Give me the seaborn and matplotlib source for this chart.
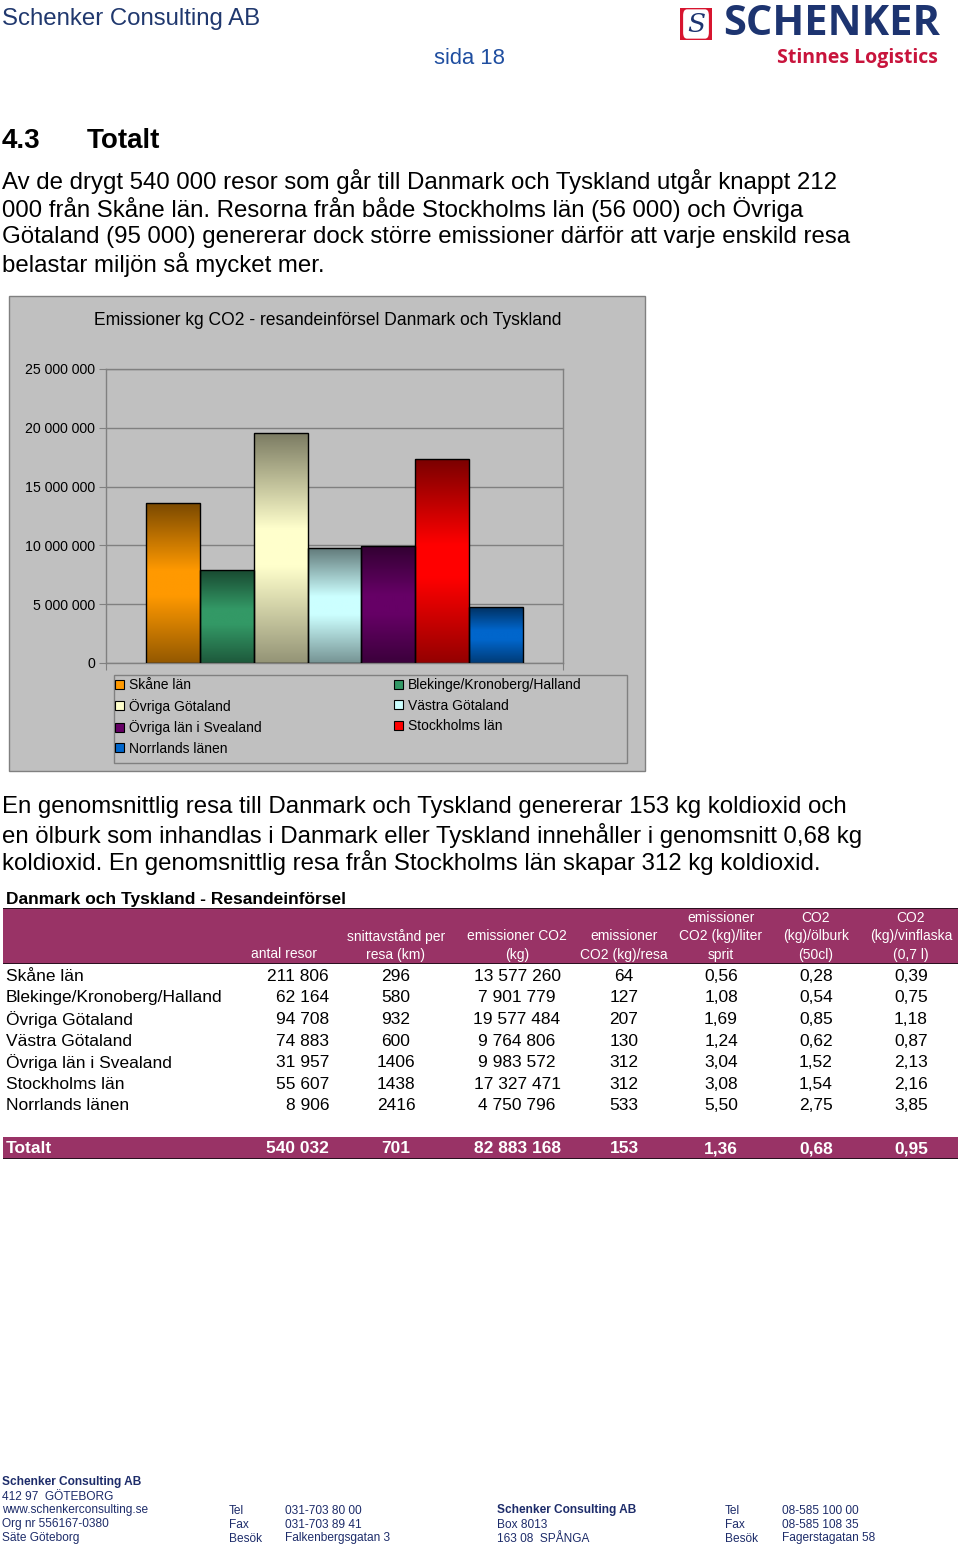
import numpy as np
import pandas as pd
import matplotlib
matplotlib.use("Agg")
import matplotlib.pyplot as plt
from matplotlib.patches import Rectangle, Patch, FancyBboxPatch
from matplotlib.ticker import FuncFormatter
import seaborn as sns

# ---------------- data ----------------
regions = ["Skåne län", "Blekinge/Kronoberg/Halland", "Övriga Götaland", "Västra Götaland",
           "Övriga län i Svealand", "Stockholms län", "Norrlands länen"]
antal_resor = [211806, 62164, 94708, 74883, 31957, 55607, 8906]
snittavstand_km = [296, 580, 932, 600, 1406, 1438, 2416]
emissioner_kg = [13577260, 7901779, 19577484, 9764806, 9983572, 17327471, 4750796]
per_resa = [64, 127, 207, 130, 312, 312, 533]
per_liter_sprit = [0.56, 1.08, 1.69, 1.24, 3.04, 3.08, 5.50]
per_olburk = [0.28, 0.54, 0.85, 0.62, 1.52, 1.54, 2.75]
per_vinflaska = [0.39, 0.75, 1.18, 0.87, 2.13, 2.16, 3.85]
totalt = ["540 032", "701", "82 883 168", "153", "1,36", "0,68", "0,95"]
bar_colors = ["#ff9900", "#339966", "#ffffcc", "#ccffff", "#660066", "#ff0000", "#0066cc"]
y_ticks = [0, 5000000, 10000000, 15000000, 20000000, 25000000]

chart_title = "Emissioner kg CO2 - resandeinförsel Danmark och Tyskland"
para1 = ["Av de drygt 540 000 resor som går till Danmark och Tyskland utgår knappt 212",
         "000 från Skåne län. Resorna från både Stockholms län (56 000) och Övriga",
         "Götaland (95 000) genererar dock större emissioner därför att varje enskild resa",
         "belastar miljön så mycket mer."]
para2 = ["En genomsnittlig resa till Danmark och Tyskland genererar 153 kg koldioxid och",
         "en ölburk som inhandlas i Danmark eller Tyskland innehåller i genomsnitt 0,68 kg",
         "koldioxid. En genomsnittlig resa från Stockholms län skapar 312 kg koldioxid."]

# ---------------- setup ----------------
plt.rcParams['font.family'] = ['Liberation Sans', 'DejaVu Sans']
W, H = 960, 1551
fig = plt.figure(figsize=(W / 100, H / 100), dpi=100)
fig.patch.set_facecolor("white")
DY = 1.5


def T(x, y, s, size, ha="left", va="center", weight="normal", color="black", **kw):
    return fig.text(x / W, 1 - (y + DY) / H, s, fontsize=size, ha=ha, va=va,
                    fontweight=weight, color=color, **kw)


def R(x0, y0, x1, y1, **kw):
    r = Rectangle((x0 / W, 1 - y1 / H), (x1 - x0) / W, (y1 - y0) / H,
                  transform=fig.transFigure, **kw)
    fig.patches.append(r)
    return r


def fmt_int(v):
    return f"{int(v):,}".replace(",", " ")


def fmt_dec(v):
    return f"{v:.2f}".replace(".", ",")


navy = "#1d3470"

# ---------------- header ----------------
T(2, 17, "Schenker Consulting AB", 17.3, color="#20386e")
T(469, 57, "sida 18", 15.8, ha="center", color="#1f4ea0")
# logo
R(680, 8, 712, 40, facecolor="#d7152f", edgecolor="none")
fb = FancyBboxPatch((686 / W, 1 - 34 / H), 20 / W, 20 / H,
                    boxstyle="round,pad=0.003,rounding_size=0.004",
                    transform=fig.transFigure, facecolor="white", edgecolor="none")
fig.patches.append(fb)
T(696, 23, "S", 19, ha="center", color=navy, family="DejaVu Serif", style="italic")
T(940, 23, "SCHENKER", 30, ha="right", weight="bold", color=navy, family=["Open Sans", "DejaVu Sans"])
T(938, 56, "Stinnes Logistics", 14, ha="right", weight="bold", color="#c8143c",
  family=["Open Sans", "DejaVu Sans"])

# section heading
T(2, 139, "4.3", 20, weight="bold")
T(87, 139, "Totalt", 20, weight="bold")

for i, line in enumerate(para1):
    T(2, [180, 208, 235, 263][i], line, 17.3)
for i, line in enumerate(para2):
    T(2, [806, 834, 861][i], line, 17.3)

# ---------------- chart ----------------
R(9, 296, 645, 771, facecolor="#c0c0c0", edgecolor="#808080", linewidth=1, zorder=-1)
T(328, 319, chart_title, 12.65, ha="center")

ax = fig.add_axes([106 / W, 1 - 663 / H, 457 / W, 294 / H])
ax.set_facecolor("#c0c0c0")
df = pd.DataFrame({"grupp": ["g"] * len(regions), "region": regions, "value": emissioner_kg})
sns.barplot(data=df, x="grupp", y="value", hue="region", hue_order=regions,
            palette=bar_colors, width=0.823, dodge=True, legend=False, ax=ax,
            saturation=1, edgecolor="black", linewidth=1.0, errorbar=None)

t = np.linspace(0, 1, 256)
fac = np.interp(t, [0, 0.42, 0.58, 1.0], [0.58, 1.0, 1.0, 0.48])
bars = [p for p in ax.patches if p.get_height() > 0]
for p in bars:
    rgb = np.array(p.get_facecolor()[:3])
    img = (rgb[None, :] * fac[:, None])[:, None, :]
    x0, y0 = p.get_x(), p.get_y()
    im = ax.imshow(img, extent=[x0, x0 + p.get_width(), y0, y0 + p.get_height()],
                   origin="lower", aspect="auto", interpolation="bilinear", zorder=2.5)
    im.set_clip_path(p)
    p.set_facecolor("none")
    p.set_zorder(3)

ax.set_xlim(-0.5, 0.5)
ax.set_ylim(0, 25000000)
ax.set_yticks(y_ticks)
ax.yaxis.set_major_formatter(FuncFormatter(lambda v, pos: fmt_int(v)))
ax.set_xticks([-0.5, 0.5])
ax.set_xticklabels(["", ""])
ax.tick_params(axis="both", direction="out", length=5, color="#808080", labelsize=10.2, pad=3)
ax.set_xlabel("")
ax.set_ylabel("")
ax.yaxis.grid(True, color="#808080", linewidth=1)
ax.set_axisbelow(True)
for s in ax.spines.values():
    s.set_color("#808080")
    s.set_linewidth(1)

# legend
R(114, 675, 627, 763, facecolor="#c0c0c0", edgecolor="#808080", linewidth=1, zorder=-0.5)
handles = [Patch(facecolor=c, edgecolor="black", linewidth=0.8) for c in bar_colors]
col1 = [0, 2, 4, 6]
col2 = [1, 3, 5]
for cols, x in ((col1, 114), (col2, 393)):
    fig.legend([handles[i] for i in cols], [regions[i] for i in cols], loc="upper left",
               bbox_to_anchor=(x / W, 1 - 677 / H), frameon=False, fontsize=10,
               handlelength=0.6, handleheight=0.6, handletextpad=0.35, borderpad=0.1,
               labelspacing=0.46, borderaxespad=0)

# ---------------- table ----------------
T(6, 898, "Danmark och Tyskland - Resandeinförsel", 12.5, weight="bold")
R(3, 908, 958, 963, facecolor="#993366", edgecolor="none")
R(3, 907.5, 958, 909, facecolor="#2a1020", edgecolor="none")
R(3, 962.5, 958, 964, facecolor="#2a1020", edgecolor="none")
R(3, 1137, 958, 1158, facecolor="#993366", edgecolor="none")
R(3, 1157.5, 958, 1159, facecolor="#2a1020", edgecolor="none")

hdr = [(284, ["antal resor"]),
       (396, ["snittavstånd per", "resa (km)"]),
       (517, ["emissioner CO2", "(kg)"]),
       (624, ["emissioner", "CO2 (kg)/resa"]),
       (721, ["emissioner", "CO2 (kg)/liter", "sprit"]),
       (816, ["CO2", "(kg)/ölburk", "(50cl)"]),
       (911, ["CO2", "(kg)/vinflaska", "(0,7 l)"])]
for x, lines in hdr:
    ys = [917, 935, 953][3 - len(lines):]
    for yy, ln in zip(ys, lines):
        T(x, yy, ln, 10, ha="center", color="white")

row_y = [975, 996, 1018, 1040, 1061, 1083, 1104]
for i, reg in enumerate(regions):
    y = row_y[i]
    T(6, y, reg, 12.5)
    T(329, y, fmt_int(antal_resor[i]), 12.5, ha="right")
    T(396, y, str(snittavstand_km[i]), 12.5, ha="center")
    T(517, y, fmt_int(emissioner_kg[i]), 12.5, ha="center")
    T(624, y, str(per_resa[i]), 12.5, ha="center")
    T(721, y, fmt_dec(per_liter_sprit[i]), 12.5, ha="center")
    T(816, y, fmt_dec(per_olburk[i]), 12.5, ha="center")
    T(911, y, fmt_dec(per_vinflaska[i]), 12.5, ha="center")

yt = 1147
T(6, yt, "Totalt", 12.5, weight="bold", color="white")
T(329, yt, totalt[0], 12.5, ha="right", weight="bold", color="white")
for x, v in zip([396, 517, 624, 721, 816, 911], totalt[1:]):
    T(x, yt, v, 12.5, ha="center", weight="bold", color="white")

# ---------------- footer ----------------
fs = 8.6
fc = "#1d2c6a"
T(2, 1481, "Schenker Consulting AB", fs, weight="bold", color=fc)
T(2, 1495, "412 97  GÖTEBORG", fs, color=fc)
T(2, 1509, "www.schenkerconsulting.se", fs, color=fc)
T(2, 1523, "Org nr 556167-0380", fs, color=fc)
T(2, 1537, "Säte Göteborg", fs, color=fc)
for y, a, b in [(1509, "Tel", "031-703 80 00"), (1523, "Fax", "031-703 89 41"),
                (1537, "Besök", "Falkenbergsgatan 3")]:
    T(229, y, a, fs, color=fc)
    T(285, y, b, fs, color=fc)
T(497, 1509, "Schenker Consulting AB", fs, weight="bold", color=fc)
T(497, 1523, "Box 8013", fs, color=fc)
T(497, 1537, "163 08  SPÅNGA", fs, color=fc)
for y, a, b in [(1509, "Tel", "08-585 100 00"), (1523, "Fax", "08-585 108 35"),
                (1537, "Besök", "Fagerstagatan 58")]:
    T(725, y, a, fs, color=fc)
    T(782, y, b, fs, color=fc)

fig.savefig("out.png", dpi=100)
